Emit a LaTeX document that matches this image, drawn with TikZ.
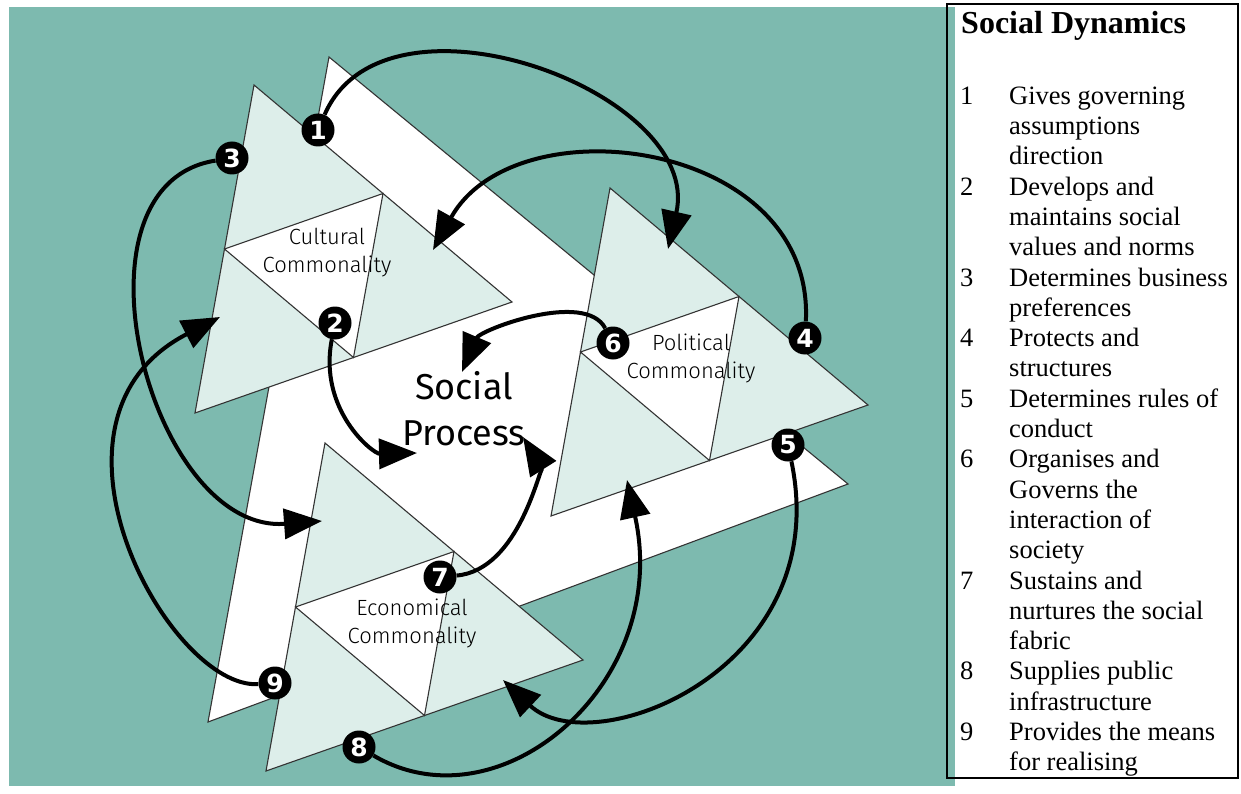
\documentclass[tikz,border=0pt]{standalone}
\usepackage{fontspec}
\setmainfont{Liberation Serif}
\newfontfamily\figfont{Fira Sans}
\newfontfamily\thinfont{Fira Sans Light}
\newfontfamily\digitfont{DejaVu Sans}
\usetikzlibrary{arrows.meta}
\definecolor{seagreen}{RGB}{125,186,175}
\definecolor{mintpale}{RGB}{221,238,234}

\begin{document}
\begin{tikzpicture}[x=1pt, y=-1pt,
	edge/.style={draw=black!80, line width=1.1pt},
	tri/.style={edge, fill=mintpale},
	core/.style={edge, fill=white},
	lbl/.style={align=center, font=\thinfont\fontsize{22}{28}\selectfont},
	num/.style={circle, fill=black, text=white, minimum size=33pt, inner sep=0pt, font=\digitfont\bfseries\fontsize{25}{25}\selectfont},
	arr/.style={line width=4pt, -{Triangle[length=38pt,width=30pt]}}]
	\useasboundingbox (0,0) rectangle (1241,794);
	\fill[seagreen] (9,7) rectangle (955,786);
	% white frame behind the three triangles
	\draw[core] (329,57) -- (848,484) -- (208,722) -- cycle;
	\foreach \tx/\ty in {254/85, 610/188, 325/443} {
		\draw[tri] (\tx,\ty) -- ++(-59,328) -- ++(317,-111) -- cycle;
		\draw[core] (\tx-29.5,\ty+164) -- (\tx+129,\ty+108.5) -- (\tx+99.5,\ty+272.5) -- cycle;
	}
	\node[lbl] (cultural) at (327,253) {Cultural\\Commonality};
	\node[lbl] (political) at (691,358) {Political\\Commonality};
	\node[lbl] (economical) at (412,623) {Economical\\Commonality};
	\node[align=center, font=\figfont\fontsize{36}{46}\selectfont] (process) at (464,409) {Social\\Process};

	% numbered markers
	\node[num] (c1) at (318,130) {1};
	\node[num] (c2) at (335,323) {2};
	\node[num] (c3) at (232,158) {3};
	\node[num] (c4) at (805,338) {4};
	\node[num] (c5) at (788,445) {5};
	\node[num] (c6) at (613,343) {6};
	\node[num] (c7) at (440,577) {7};
	\node[num] (c8) at (359,747) {8};
	\node[num] (c9) at (275,683) {9};

	% arrow tips
	\coordinate (t1) at (668,249);
	\coordinate (t2) at (417,453);
	\coordinate (t3) at (322,521);
	\coordinate (t4) at (433,250);
	\coordinate (t5) at (503,680);
	\coordinate (t6) at (462,372);
	\coordinate (t7) at (523,437);
	\coordinate (t8) at (627,480);
	\coordinate (t9) at (220,317);

	\draw[arr] (c1) .. controls (385,-25) and (704,92) .. (t1);
	\draw[arr] (c2) .. controls (318,410) and (373,454) .. (t2);
	\draw[arr] (c3) .. controls (60,185) and (150,534) .. (t3);
	\draw[arr] (c4) .. controls (815,140) and (516,101) .. (t4);
	\draw[arr] (c5) .. controls (835,670) and (592,764) .. (t5);
	\draw[arr] (c6) .. controls (585,290) and (480,330) .. (t6);
	\draw[arr] (c7) .. controls (520,570) and (540,464) .. (t7);
	\draw[arr] (c8) .. controls (500,830) and (672,683) .. (t8);
	\draw[arr] (c9) .. controls (170,690) and (20,420) .. (t9);

	% legend
	\draw[line width=2pt] (947,4) rectangle (1238,778);
	\node[anchor=base west, inner sep=0pt, font=\bfseries\fontsize{32}{32}\selectfont] (title) at (961,34) {Social Dynamics};
	\node[anchor=north west, inner sep=0pt, font=\fontsize{26.5}{30.3}\selectfont] (legend) at (960,82.8) {%
		\begin{tabular}{@{}p{49pt}@{}l@{}}
			1 & Gives governing\\
			  & assumptions\\
			  & direction\\
			2 & Develops and\\
			  & maintains social\\
			  & values and norms\\
			3 & Determines business\\
			  & preferences\\
			4 & Protects and\\
			  & structures\\
			5 & Determines rules of\\
			  & conduct\\
			6 & Organises and\\
			  & Governs the\\
			  & interaction of\\
			  & society\\
			7 & Sustains and\\
			  & nurtures the social\\
			  & fabric\\
			8 & Supplies public\\
			  & infrastructure\\
			9 & Provides the means\\
			  & for realising
		\end{tabular}};
\end{tikzpicture}
\end{document}
